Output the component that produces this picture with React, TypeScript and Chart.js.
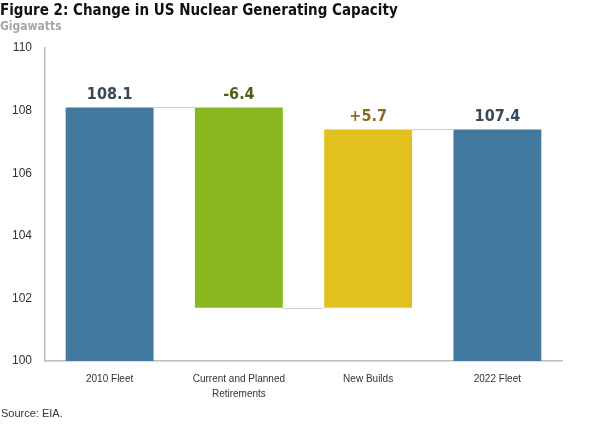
import React, { useEffect, useRef } from "react";
import { Chart, registerables } from "chart.js";

Chart.register(...registerables);

const categories: (string | string[])[] = [
  "2010 Fleet",
  ["Current and Planned", "Retirements"],
  "New Builds",
  "2022 Fleet",
];
const fleet2010 = 108.1;
const retirements = -6.4;
const newBuilds = 5.7;
const fleet2022 = 107.4;
const axisMin = 100;
const axisMax = 110;
const axisStep = 2;
const valueLabels = ["108.1", "-6.4", "+5.7", "107.4"];
const barColors = ["#42799f", "#89b720", "#e2c11e", "#42799f"];
const labelColors = ["#34495c", "#4f5f1c", "#8a6c1c", "#34495c"];

const afterRetire = fleet2010 + retirements;
const afterBuild = afterRetire + newBuilds;
const ranges: [number, number][] = [
  [axisMin, fleet2010],
  [afterRetire, fleet2010],
  [afterRetire, afterBuild],
  [axisMin, fleet2022],
];
const connectorLevels = [fleet2010, afterRetire, fleet2022];

const FONT = "'Liberation Sans Narrow', 'DejaVu Sans Condensed', 'Liberation Sans', sans-serif";
const TICK_FONT = "'Liberation Sans', Arial, sans-serif";

const overlayPlugin = {
  id: "overlay",
  afterDatasetsDraw(chart: any) {
    const ctx = chart.ctx;
    const meta = chart.getDatasetMeta(0);
    const y = chart.scales.y;
    ctx.save();
    ctx.strokeStyle = "#d3cdc1";
    ctx.lineWidth = 1;
    for (let i = 0; i < meta.data.length - 1; i++) {
      const a = meta.data[i];
      const b = meta.data[i + 1];
      const py = Math.round(y.getPixelForValue(connectorLevels[i])) + 0.5;
      ctx.beginPath();
      ctx.moveTo(a.x + a.width / 2, py);
      ctx.lineTo(b.x - b.width / 2, py);
      ctx.stroke();
    }
    ctx.font = `bold 16px ${FONT}`;
    ctx.textAlign = "center";
    ctx.textBaseline = "bottom";
    meta.data.forEach((el: any, i: number) => {
      const top = Math.min(el.y, el.base);
      ctx.fillStyle = labelColors[i];
      ctx.fillText(valueLabels[i], el.x, top - 5);
    });
    ctx.restore();
  },
};

export default function App() {
  const ref = useRef<HTMLCanvasElement>(null);
  useEffect(() => {
    document.body.style.margin = "0";
    const chart = new Chart(ref.current!, {
      type: "bar",
      data: {
        labels: categories as any,
        datasets: [
          {
            data: ranges as any,
            backgroundColor: barColors,
            borderWidth: 0,
            borderSkipped: false,
            barPercentage: 0.68,
            categoryPercentage: 1,
          },
        ],
      },
      options: {
        responsive: false,
        animation: false,
        layout: { padding: { left: 0, right: 38, top: 48, bottom: 0 } },
        plugins: { legend: { display: false }, tooltip: { enabled: false } },
        scales: {
          x: {
            grid: { display: false, drawTicks: false },
            border: { display: true, color: "#c2bcb2", width: 1.5 },
            ticks: {
              padding: 11,
              color: "#333333",
              font: { family: TICK_FONT, size: 10, lineHeight: 1.5 },
              maxRotation: 0,
            },
            afterFit: (s: any) => {
              s.height = 66;
            },
          },
          y: {
            min: axisMin,
            max: axisMax,
            grid: { display: false, drawTicks: false },
            border: { display: true, color: "#c2bcb2", width: 1.5 },
            ticks: {
              stepSize: axisStep,
              padding: 13,
              color: "#333333",
              font: { family: TICK_FONT, size: 12 },
            },
            afterFit: (s: any) => {
              s.width = 45;
            },
          },
        },
      },
      plugins: [overlayPlugin],
    });
    return () => chart.destroy();
  }, []);
  return (
    <div style={{ position: "relative", width: 600, height: 427, background: "#fff" }}>
      <canvas ref={ref} width={600} height={427} style={{ display: "block" }} />
      <div
        style={{
          position: "absolute",
          left: 0,
          top: 2,
          fontFamily: FONT,
          fontWeight: "bold",
          fontSize: 15,
          color: "#111",
          lineHeight: "17px",
        }}
      >
        Figure 2: Change in US Nuclear Generating Capacity
      </div>
      <div
        style={{
          position: "absolute",
          left: 0,
          top: 19,
          fontFamily: FONT,
          fontWeight: "bold",
          fontSize: 12,
          color: "#a6a6a6",
          lineHeight: "14px",
        }}
      >
        Gigawatts
      </div>
      <div
        style={{
          position: "absolute",
          left: 1,
          top: 407,
          fontFamily: TICK_FONT,
          fontSize: 11,
          color: "#333",
          lineHeight: "13px",
        }}
      >
        Source: EIA.
      </div>
    </div>
  );
}
